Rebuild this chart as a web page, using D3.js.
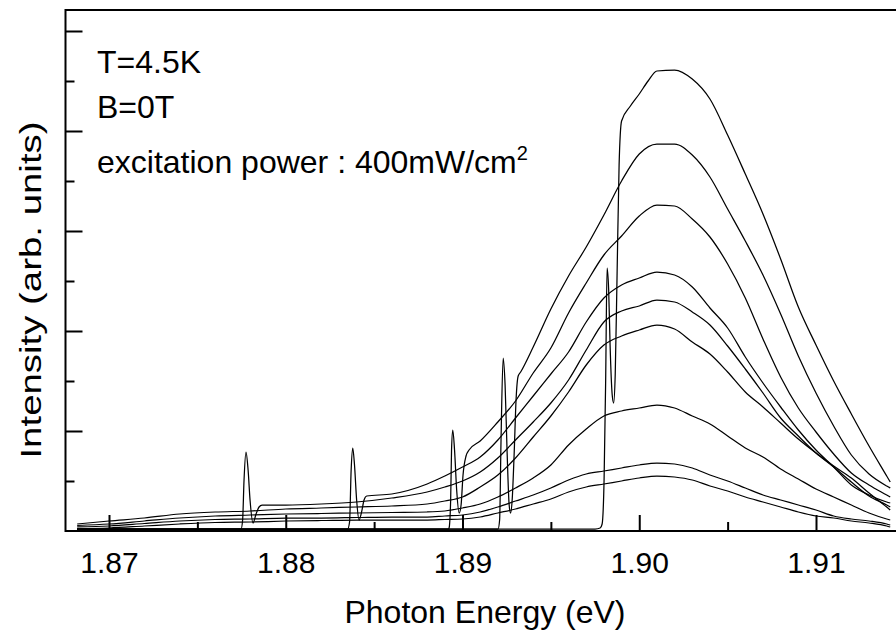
<!DOCTYPE html>
<html>
<head>
<meta charset="utf-8">
<script src="https://cdn.jsdelivr.net/npm/d3@7"></script>
<style>
    body { margin: 0; background: #fff; }
    text { font-family: "Liberation Sans", Arial, Helvetica, sans-serif; fill: #000; }
</style>
</head>
<body>
<div id="chart"></div>
<script>
//  Define width and height
var chart_width     =   896;
var chart_height    =   630;

// Axis ticks
var x_major         =   [1.87, 1.88, 1.89, 1.90, 1.91];
var x_labels        =   ["1.87", "1.88", "1.89", "1.90", "1.91"];
var x_minor         =   [1.875, 1.885, 1.895, 1.905];
var y_major         =   [100, 200, 300, 400, 500];
var y_minor         =   [50, 150, 250, 350, 450];

// Spectra: [photon energy (eV), intensity (arb. units)]
// excitation at 1.8982 eV
var spec_a = [[1.8682,2],[1.8800,2],[1.8900,2],[1.8975,2],[1.89779,3],[1.8979,7],[1.89801,51],[1.8981,151],
    [1.89818,263],[1.89827,241],[1.89835,186],[1.89847,136],[1.89855,128],[1.89864,156],[1.89875,261],
    [1.89886,366],[1.8990,410],[1.8995,425],[1.9000,437],[1.9005,450],[1.9010,460],[1.9020,461],[1.9030,452],
    [1.9040,432],[1.9050,396],[1.9060,357],[1.9070,317],[1.9080,272],[1.9090,224],[1.9100,186],[1.9110,150],
    [1.9120,117],[1.9130,85],[1.9140,55],[1.9142,49]];
// excitation at 1.8923 eV
var spec_b = [[1.8682,2],[1.8800,2],[1.8900,2],[1.89201,2],[1.8921,11],[1.89218,91],[1.8923,173],[1.89241,146],
    [1.89252,81],[1.89264,26],[1.89272,18],[1.89281,31],[1.89292,76],[1.89303,131],[1.89315,155],[1.89329,159],
    [1.8940,184],[1.8950,222],[1.8960,255],[1.8970,284],[1.8980,316],[1.8990,350],[1.9000,377],[1.9010,387],
    [1.9020,387],[1.9030,376],[1.9040,354],[1.9050,322],[1.9060,290],[1.9070,256],[1.9080,217],[1.9090,175],
    [1.9100,138],[1.9110,105],[1.9120,76],[1.9130,57],[1.9140,45],[1.9142,43]];
// excitation at 1.8894 eV
var spec_c = [[1.8682,2],[1.8800,2],[1.8892,2],[1.88924,3],[1.88933,31],[1.88938,81],[1.88945,101],[1.88955,81],
    [1.88967,41],[1.88981,18],[1.88992,26],[1.89003,56],[1.8902,75],[1.89037,81],[1.8910,90],[1.8920,109],
    [1.8930,130],[1.8940,158],[1.8950,183],[1.8960,218],[1.8970,248],[1.8980,276],[1.8990,295],[1.9000,315],
    [1.9010,326],[1.9020,325],[1.9030,312],[1.9040,294],[1.9050,267],[1.9060,233],[1.9070,192],[1.9080,154],
    [1.9090,123],[1.9100,99],[1.9110,77],[1.9120,58],[1.9130,46],[1.9140,36],[1.9142,34]];
// excitation at 1.8838 eV
var spec_d = [[1.8682,2],[1.8835,2],[1.88361,9],[1.8837,61],[1.88379,83],[1.88389,66],[1.88401,31],[1.88415,11],
    [1.88429,19],[1.88443,31],[1.88458,35],[1.8860,37],[1.8880,47],[1.8890,55],[1.8900,64],[1.8910,74],
    [1.8920,91],[1.8930,113],[1.8940,135],[1.8950,157],[1.8960,179],[1.8970,209],[1.8980,233],[1.8990,246],
    [1.9000,253],[1.9010,259],[1.9020,256],[1.9030,244],[1.9040,223],[1.9050,203],[1.9060,174],[1.9070,148],
    [1.9080,124],[1.9090,101],[1.9100,81],[1.9110,64],[1.9120,46],[1.9130,36],[1.9140,29],[1.9142,28]];
// excitation at 1.8778 eV
var spec_e = [[1.8682,2],[1.87747,2],[1.87756,11],[1.87764,51],[1.87775,79],[1.87787,61],[1.87798,31],[1.87815,8],
    [1.87832,17],[1.87849,24],[1.87866,26],[1.8800,26],[1.8820,27],[1.8840,29],[1.8860,33],[1.8880,39],
    [1.8890,44],[1.8900,50],[1.8910,59],[1.8920,73],[1.8930,91],[1.8940,109],[1.8950,128],[1.8960,151],
    [1.8970,181],[1.8980,209],[1.8990,220],[1.9000,225],[1.9010,231],[1.9020,229],[1.9030,219],[1.9040,206],
    [1.9050,185],[1.9060,162],[1.9070,138],[1.9080,113],[1.9090,95],[1.9100,78],[1.9110,64],[1.9120,49],
    [1.9130,35],[1.9140,26],[1.9142,24]];
// excitation below the window
var spec_f = [[1.8682,7],[1.8700,10],[1.8720,13],[1.8740,17],[1.8760,19],[1.8780,20],[1.8800,22],[1.8820,23],
    [1.8840,24],[1.8860,25],[1.8880,27],[1.8890,30],[1.8900,34],[1.8910,44],[1.8920,56],[1.8930,73],[1.8940,94],
    [1.8950,115],[1.8960,139],[1.8970,166],[1.8980,186],[1.8990,195],[1.9000,201],[1.9010,206],[1.9020,202],
    [1.9030,189],[1.9040,177],[1.9050,159],[1.9060,139],[1.9070,124],[1.9080,108],[1.9090,92],[1.9100,78],
    [1.9110,65],[1.9120,53],[1.9130,38],[1.9140,24],[1.9142,21]];
var spec_g = [[1.8682,5.5],[1.8700,7],[1.8720,10],[1.8740,13],[1.8760,15],[1.8780,16],[1.8800,17],[1.8820,17.5],
    [1.8840,18],[1.8860,18.5],[1.8880,19],[1.8890,20],[1.8900,23],[1.8910,27],[1.8920,34],[1.8930,43],[1.8940,53],
    [1.8950,66],[1.8960,86],[1.8970,102],[1.8980,115],[1.8990,120],[1.9000,123],[1.9010,126],[1.9020,123],
    [1.9030,115],[1.9040,107],[1.9050,95],[1.9060,83],[1.9070,74],[1.9080,62],[1.9090,52],[1.9100,42],
    [1.9110,34],[1.9120,26],[1.9130,18],[1.9140,12],[1.9142,11]];
var spec_h = [[1.8682,4],[1.8700,5],[1.8720,7.5],[1.8740,10],[1.8760,11.5],[1.8780,12],[1.8800,13],[1.8820,13],
    [1.8840,13.5],[1.8860,14],[1.8880,14],[1.8890,15],[1.8900,16],[1.8910,19],[1.8920,24],[1.8930,30],[1.8940,36],
    [1.8950,43],[1.8960,51],[1.8970,57],[1.8980,60],[1.8990,63],[1.9000,66],[1.9010,68],[1.9020,67],[1.9030,63],
    [1.9040,56],[1.9050,50],[1.9060,43],[1.9070,36],[1.9080,31],[1.9090,26],[1.9100,21],[1.9110,15],[1.9120,12],
    [1.9130,10],[1.9140,7],[1.9142,6]];
var spec_i = [[1.8682,2.5],[1.8700,3],[1.8720,5],[1.8740,7],[1.8760,8.5],[1.8780,9],[1.8800,10],[1.8820,10.5],
    [1.8840,11],[1.8860,11],[1.8880,11],[1.8890,11.5],[1.8900,12],[1.8910,14],[1.8920,18],[1.8930,22],[1.8940,27],
    [1.8950,32],[1.8960,39],[1.8970,44],[1.8980,47],[1.8990,50],[1.9000,53],[1.9010,55],[1.9020,54],[1.9030,51],
    [1.9040,45],[1.9050,40],[1.9060,34],[1.9070,29],[1.9080,24],[1.9090,19],[1.9100,15],[1.9110,13],[1.9120,10],
    [1.9130,8],[1.9140,5],[1.9142,4]];

var spectra         =   [spec_a, spec_b, spec_c, spec_d, spec_e, spec_f, spec_g, spec_h, spec_i];


// Scales
var x               =   d3.scaleLinear().domain([1.87, 1.91]).range([109, 816]);
var y               =   d3.scaleLinear().domain([0, 500]).range([531, 31]);


// Create SVG
var svg             =   d3.select("#chart")
    .append("svg")
    .attr("width", chart_width)
    .attr("height", chart_height)
    .style("background", "#fff");

svg.append("clipPath")
    .attr("id", "plot-clip")
    .append("rect")
    .attr("x", 66)
    .attr("y", 10)
    .attr("width", chart_width - 66)
    .attr("height", 521);


// Spectra
var line            =   d3.line()
    .x(function(d){ return x(d[0]); })
    .y(function(d){ return y(d[1]); })
    .curve(d3.curveMonotoneX);

svg.append("g")
    .attr("clip-path", "url(#plot-clip)")
    .selectAll("path")
    .data(spectra)
    .enter()
    .append("path")
    .attr("d", line)
    .attr("fill", "none")
    .attr("stroke", "#000")
    .attr("stroke-width", 1.25)
    .attr("stroke-linejoin", "round");


// Axes (ticks point inward)
function styleAxis(g){
    g.select(".domain").remove();
    g.selectAll(".tick line").attr("stroke", "#000").attr("stroke-width", 2);
}

svg.append("g")
    .attr("transform", "translate(0,531)")
    .call(d3.axisBottom(x).tickValues(x_major).tickSize(-16).tickPadding(21)
        .tickFormat(function(d, i){ return x_labels[i]; }))
    .call(styleAxis)
    .selectAll("text")
    .attr("font-size", 30)
    .attr("font-family", "Liberation Sans, Arial, sans-serif");

svg.append("g")
    .attr("transform", "translate(0,531)")
    .call(d3.axisBottom(x).tickValues(x_minor).tickSize(-9).tickFormat(""))
    .call(styleAxis);

svg.append("g")
    .attr("transform", "translate(65.5,0)")
    .call(d3.axisLeft(y).tickValues(y_major).tickSize(-17).tickFormat(""))
    .call(styleAxis);

svg.append("g")
    .attr("transform", "translate(65.5,0)")
    .call(d3.axisLeft(y).tickValues(y_minor).tickSize(-9).tickFormat(""))
    .call(styleAxis);

// Frame (right side is cut off in the original)
svg.append("path")
    .attr("d", "M" + chart_width + ",10H65.5V531H" + chart_width)
    .attr("fill", "none")
    .attr("stroke", "#000")
    .attr("stroke-width", 2);


// Labels
svg.append("text")
    .attr("x", 485)
    .attr("y", 623)
    .attr("text-anchor", "middle")
    .attr("font-size", 32)
    .text("Photon Energy (eV)");

svg.append("text")
    .attr("transform", "translate(41,290) rotate(-90) scale(1.2,0.92)")
    .attr("text-anchor", "middle")
    .attr("font-size", 32)
    .text("Intensity (arb. units)");

var notes = svg.append("g").attr("font-size", 32);
notes.append("text").attr("x", 97).attr("y", 72.5).text("T=4.5K");
notes.append("text").attr("x", 97).attr("y", 118).text("B=0T");

var power = notes.append("text").attr("x", 97).attr("y", 172.5);
power.append("tspan").text("excitation power : 400mW/cm");
power.append("tspan").attr("font-size", 20).attr("dy", -12.5).text("2");
</script>
</body>
</html>
